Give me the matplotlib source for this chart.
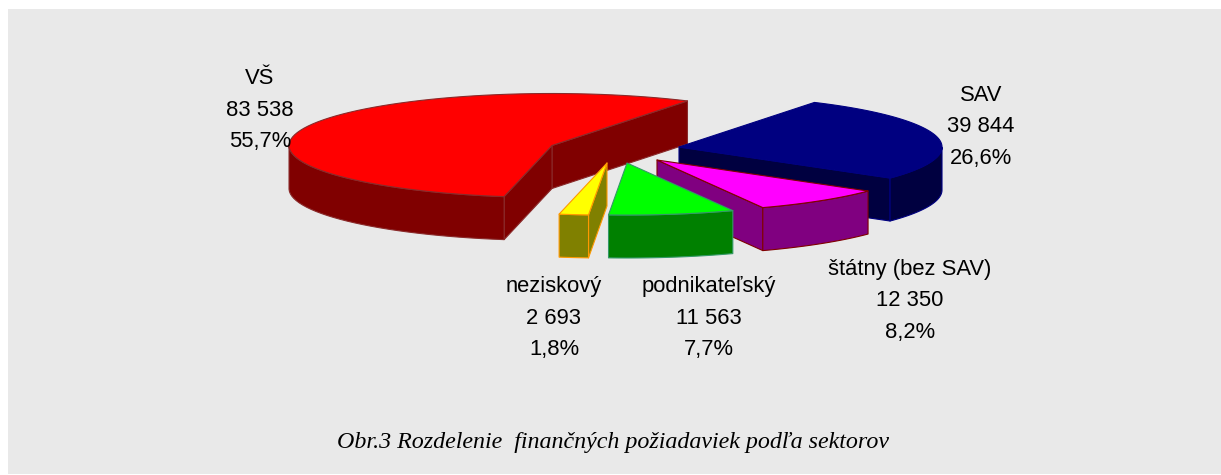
import numpy as np
import matplotlib
matplotlib.use("Agg")
import matplotlib.pyplot as plt
from matplotlib.patches import Polygon, Rectangle

sektory = ["VŠ", "neziskový", "podnikateľský", "štátny (bez SAV)", "SAV"]
hodnoty = [83538, 2693, 11563, 12350, 39844]
hodnoty_text = ["83 538", "2 693", "11 563", "12 350", "39 844"]
podiely_text = ["55,7%", "1,8%", "7,7%", "8,2%", "26,6%"]
titulok = "Obr.3 Rozdelenie  finančných požiadaviek podľa sektorov"

farby_vrch = ["#FF0000", "#FFFF00", "#00FF00", "#FF00FF", "#000080"]
farby_bok = ["#800000", "#808000", "#008000", "#800080", "#000040"]
farby_hran = ["#8A2A2A", "#FF9900", "#339966", "#800000", "#000080"]

# stred kazdeho vysunuteho vyseku a poloha popisu (v pixeloch obrazka)
stredy = [(552, 145.5), (607, 163), (627, 163), (657, 160), (679, 147)]
popisy = [(260, 84), (554, 292), (709, 292), (910, 275), (981, 101)]
# VS uplne vzadu, potom SAV, statny, podnikatelsky, neziskovy
poradie = [5, 9, 8, 7, 6]
A, B, HLBKA = 263, 52, 43
START = 59
RIADOK = 31.5

fig = plt.figure(figsize=(12.21, 4.75), dpi=100, facecolor="white")
ax = fig.add_axes([0, 0, 1, 1])
ax.set_xlim(0, 1221)
ax.set_ylim(475, 0)
ax.axis("off")
ax.add_patch(Rectangle((8, 9), 1213, 465, facecolor="#E9E9E9", edgecolor="none"))


def bod(stred, t):
    return stred[0] + A * np.cos(t), stred[1] - B * np.sin(t)


def plocha(body, farba, hrana, z):
    ax.add_patch(Polygon(body, closed=True, facecolor=farba, edgecolor=hrana,
                         linewidth=0.8, joinstyle="round", zorder=z))


uhol = np.radians(START)
spolu = sum(hodnoty)
for i, hodnota in enumerate(hodnoty):
    t1 = uhol
    t2 = uhol + 2 * np.pi * hodnota / spolu
    uhol = t2
    z = poradie[i]
    s = stredy[i]
    obluk = np.linspace(t1, t2, 80)
    vrch = [s] + [bod(s, t) for t in obluk]

    # rezne steny, len ked su otocene k divakovi
    for t, normala in ((t1, t1 - np.pi / 2), (t2, t2 + np.pi / 2)):
        if np.sin(normala) < 0:
            x, y = bod(s, t)
            plocha([s, (x, y), (x, y + HLBKA), (s[0], s[1] + HLBKA)],
                   farby_bok[i], farby_hran[i], z)
    # predny plast
    predok = [t for t in obluk if np.sin(t) < 0]
    if predok:
        horna = [bod(s, t) for t in predok]
        dolna = [(x, y + HLBKA) for x, y in reversed(horna)]
        plocha(horna + dolna, farby_bok[i], farby_hran[i], z)
    plocha(vrch, farby_vrch[i], farby_hran[i], z)

    x, y = popisy[i]
    for j, riadok in enumerate([sektory[i], hodnoty_text[i], podiely_text[i]]):
        ax.text(x, y + j * RIADOK, riadok, ha="center", va="baseline", zorder=20,
                family="Liberation Sans", fontsize=15.8, color="black")

ax.text(613, 448, titulok, ha="center", va="baseline", family="Liberation Serif",
        style="italic", fontsize=17.3, color="black")

fig.savefig("out.png", dpi=100)
